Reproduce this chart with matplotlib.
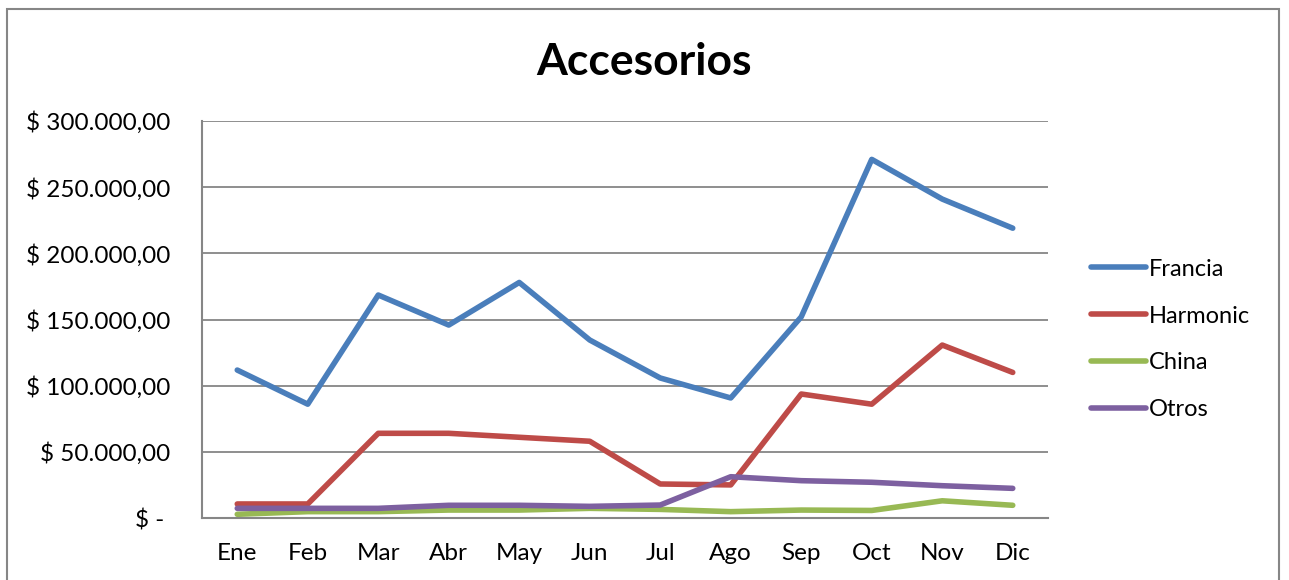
import matplotlib.pyplot as plt
from matplotlib.patches import Rectangle
from matplotlib.ticker import FuncFormatter

plt.rcParams['font.family'] = ['Lato', 'DejaVu Sans']

meses = ['Ene', 'Feb', 'Mar', 'Abr', 'May', 'Jun',
         'Jul', 'Ago', 'Sep', 'Oct', 'Nov', 'Dic']
francia = [111800, 86000, 168500, 145800, 178000, 134500,
           105800, 90700, 152000, 271000, 241000, 219000]
harmonic = [10600, 10600, 64000, 64000, 61000, 58000,
            25700, 25000, 93700, 86000, 130700, 110000]
china = [2800, 4800, 4800, 6000, 6000, 7300,
         6500, 4800, 6000, 5700, 13000, 9600]
otros = [7300, 7300, 7300, 9600, 9600, 8800,
         9800, 31200, 28200, 27000, 24400, 22400]

series = [('Francia', francia, '#4A7EBB'),
          ('Harmonic', harmonic, '#BE4B48'),
          ('China', china, '#98B954'),
          ('Otros', otros, '#7D60A0')]


def pesos(v, pos):
    if v == 0:
        return '$ - '
    s = f'{v:,.2f}'.replace(',', 'X').replace('.', ',').replace('X', '.')
    return '$ ' + s


fig = plt.figure(figsize=(12.89, 5.8), dpi=100)
ax = fig.add_axes([202/1289, 1 - 518/580, 846/1289, 397/580])

x = range(len(meses))
for name, vals, col in series:
    ax.plot(x, vals, color=col, lw=4, label=name, solid_capstyle='round')

ax.set_xlim(-0.5, len(meses) - 0.5)
ax.set_ylim(0, 300000)
ax.set_yticks(range(0, 300001, 50000))
ax.yaxis.set_major_formatter(FuncFormatter(pesos))
ax.set_xticks(list(x))
ax.set_xticklabels(meses)
ax.tick_params(length=0, labelsize=17.5)
ax.tick_params(axis='y', pad=23)
ax.tick_params(axis='x', pad=18)
ax.grid(axis='y', color='#868686', lw=1.3)
ax.set_axisbelow(True)
for side in ('top', 'right'):
    ax.spines[side].set_visible(False)
for side in ('left', 'bottom'):
    ax.spines[side].set_color('#868686')
    ax.spines[side].set_linewidth(1.5)

fig.text(0.5, 1 - 62/580, 'Accesorios', ha='center', va='center',
         fontsize=32, fontweight='bold')

fig.legend(loc='center left', bbox_to_anchor=(1082/1289, 1 - 339.5/580),
           frameon=False, fontsize=17, handlelength=2.3,
           handletextpad=0.15, labelspacing=1.1, borderaxespad=0)

fig.patches.append(Rectangle((7/1289, -0.05), 1272/1289, 1 - 9/580 + 0.05,
                             transform=fig.transFigure, fill=False,
                             edgecolor='#868686', lw=1.5))

fig.savefig('out.png', dpi=100)
